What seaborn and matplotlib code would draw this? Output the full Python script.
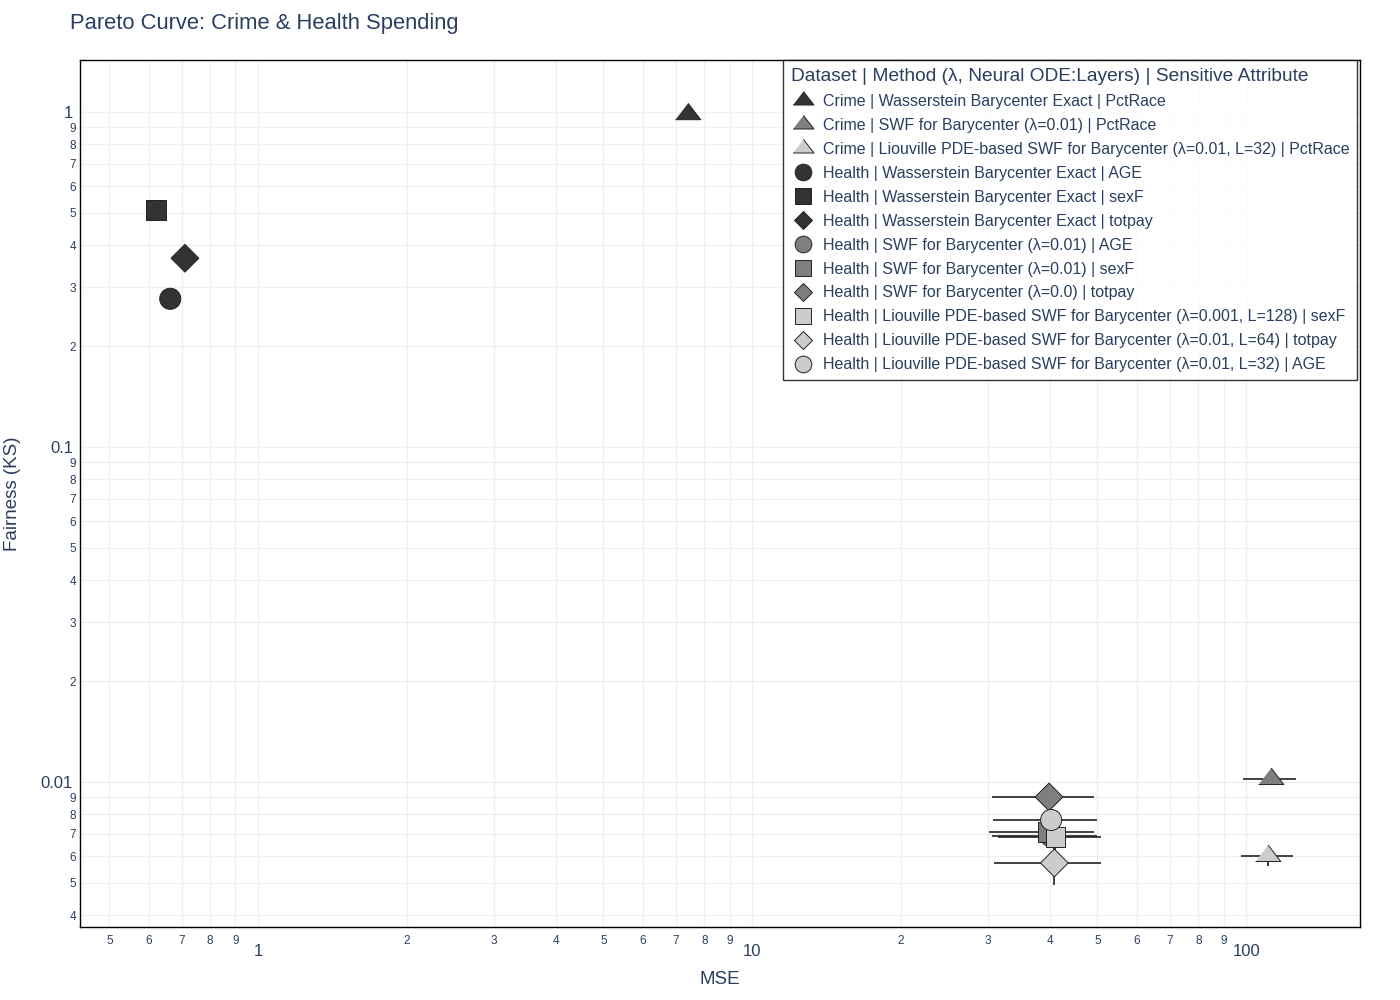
import numpy as np
import pandas as pd
import matplotlib
matplotlib.use('Agg')
import matplotlib.pyplot as plt
import seaborn as sns
from matplotlib.lines import Line2D
from matplotlib.ticker import FixedLocator, FixedFormatter

sns.set_style('white')
plt.rcParams['font.family'] = ['Liberation Sans', 'DejaVu Sans']

TXT = '#2a3f5f'
GRID = '#EBF0F8'

# Chart values
labels = [
    'Crime | Wasserstein Barycenter Exact | PctRace',
    'Crime | SWF for Barycenter (λ=0.01) | PctRace',
    'Crime | Liouville PDE-based SWF for Barycenter (λ=0.01, L=32) | PctRace',
    'Health | Wasserstein Barycenter Exact | AGE',
    'Health | Wasserstein Barycenter Exact | sexF',
    'Health | Wasserstein Barycenter Exact | totpay',
    'Health | SWF for Barycenter (λ=0.01) | AGE',
    'Health | SWF for Barycenter (λ=0.01) | sexF',
    'Health | SWF for Barycenter (λ=0.0) | totpay',
    'Health | Liouville PDE-based SWF for Barycenter (λ=0.001, L=128) | sexF',
    'Health | Liouville PDE-based SWF for Barycenter (λ=0.01, L=64) | totpay',
    'Health | Liouville PDE-based SWF for Barycenter (λ=0.01, L=32) | AGE',
]
mse = [7.42, 112.4, 110.8, 0.664, 0.622, 0.711, 40.2, 39.6, 39.9, 41.1, 40.9, 40.3]
mse_err = [0, 13.9, 13.4, 0, 0, 0, 9.6, 9.5, 9.3, 9.7, 10.0, 9.5]
ks = [0.985, 0.0102, 0.00601, 0.277, 0.51, 0.366, 0.0069, 0.0071, 0.00902, 0.00685, 0.00573, 0.0077]
ks_err = [0, 0.0002, 0.0004, 0, 0, 0, 0.0002, 0.0002, 0.0002, 0.0006, 0.0008, 0.0002]

method_shade = ['dark', 'mid', 'light', 'dark', 'dark', 'dark', 'mid', 'mid', 'mid', 'light', 'light', 'light']
attr_shape = ['tri', 'tri', 'tri', 'circle', 'square', 'diamond',
              'circle', 'square', 'diamond', 'square', 'diamond', 'circle']

shade_colors = {'dark': '#333333', 'mid': '#7f7f7f', 'light': '#cccccc'}
tri = [(-1.155, -0.5), (1.155, -0.5), (0, 1.0)]
shape_markers = {'tri': tri, 'circle': 'o', 'square': 's', 'diamond': 'D'}
shape_sizes = {'tri': 330, 'circle': 230, 'square': 200, 'diamond': 200}
legend_sizes = {'tri': 15, 'circle': 12, 'square': 12, 'diamond': 9.5}

df = pd.DataFrame({'label': labels, 'mse': mse, 'ks': ks,
                   'mse_err': mse_err, 'ks_err': ks_err})

palette = {l: shade_colors[s] for l, s in zip(labels, method_shade)}
markers = {l: shape_markers[m] for l, m in zip(labels, attr_shape)}
sizes = {l: shape_sizes[m] for l, m in zip(labels, attr_shape)}

fig = plt.figure(figsize=(14, 10), dpi=100)
ax = fig.add_axes([80 / 1400, 73 / 1000, 1280 / 1400, 867 / 1000])

# error bars first, markers on top
ax.errorbar(df['mse'], df['ks'], xerr=df['mse_err'], yerr=df['ks_err'],
            fmt='none', ecolor='#222222', elinewidth=1.2, capsize=0, zorder=2)

sns.scatterplot(data=df, x='mse', y='ks', hue='label', style='label', size='label',
                palette=palette, markers=markers, sizes=sizes, hue_order=labels,
                style_order=labels, size_order=labels, edgecolor='#222222',
                linewidth=0.7, legend=False, ax=ax, zorder=3)

ax.set_xscale('log')
ax.set_yscale('log')
ax.set_xlim(0.436, 170)
ax.set_ylim(0.00369, 1.43)

# ticks: plotly-like major + labelled minor
xmaj = [1, 10, 100]
xmin = [v * d for d in (0.1, 1, 10) for v in range(2, 10) if 0.436 < v * d < 170]
ymaj = [0.01, 0.1, 1]
ymin = [v * d for d in (0.001, 0.01, 0.1) for v in range(2, 10) if 0.00369 < v * d < 1.43]


def digit(v):
    return str(int(round(v / 10 ** np.floor(np.log10(v) + 1e-9))))


ax.xaxis.set_major_locator(FixedLocator(xmaj))
ax.xaxis.set_major_formatter(FixedFormatter(['1', '10', '100']))
ax.xaxis.set_minor_locator(FixedLocator(xmin))
ax.xaxis.set_minor_formatter(FixedFormatter([digit(v) for v in xmin]))
ax.yaxis.set_major_locator(FixedLocator(ymaj))
ax.yaxis.set_major_formatter(FixedFormatter(['0.01', '0.1', '1']))
ax.yaxis.set_minor_locator(FixedLocator(ymin))
ax.yaxis.set_minor_formatter(FixedFormatter([digit(v) for v in ymin]))

ax.tick_params(axis='both', which='both', length=0, colors=TXT)
ax.tick_params(axis='x', which='major', labelsize=12, pad=12)
ax.tick_params(axis='x', which='minor', labelsize=8.5, pad=6)
ax.tick_params(axis='y', which='major', labelsize=12, pad=5)
ax.tick_params(axis='y', which='minor', labelsize=8.5, pad=3)

ax.grid(True, which='both', color=GRID, linewidth=1, zorder=0)
ax.set_axisbelow(True)
for sp in ax.spines.values():
    sp.set_color('black')
    sp.set_linewidth(1)

ax.set_xlabel('MSE', fontsize=13.5, color=TXT)
ax.xaxis.set_label_coords(0.5, -(971 - 927) / 867)
ax.set_ylabel('Fairness (KS)', fontsize=13.5, color=TXT)
ax.yaxis.set_label_coords(-(80 - 21) / 1280, 0.5)
fig.text(70 / 1400, 1 - 23 / 1000, 'Pareto Curve: Crime & Health Spending',
         fontsize=15.8, color=TXT, va='center', ha='left')

handles = [Line2D([0], [0], linestyle='none', marker=markers[l], color=palette[l],
                  markeredgecolor='#222222', markeredgewidth=0.7,
                  markersize=legend_sizes[attr_shape[i]])
           for i, l in enumerate(labels)]
leg = ax.legend(handles, labels, title='Dataset | Method (λ, Neural ODE:Layers) | Sensitive Attribute',
                loc='upper right', bbox_to_anchor=(0.998, 1.0), frameon=True, fancybox=False,
                edgecolor='black', fontsize=11.5, title_fontsize=13.8, labelspacing=0.56,
                handletextpad=0.5, handlelength=1.5, borderpad=0.5, alignment='left',
                borderaxespad=0)
leg.get_frame().set_linewidth(1)
for t in leg.get_texts():
    t.set_color(TXT)
leg.get_title().set_color(TXT)

fig.savefig('out.png', dpi=100)
